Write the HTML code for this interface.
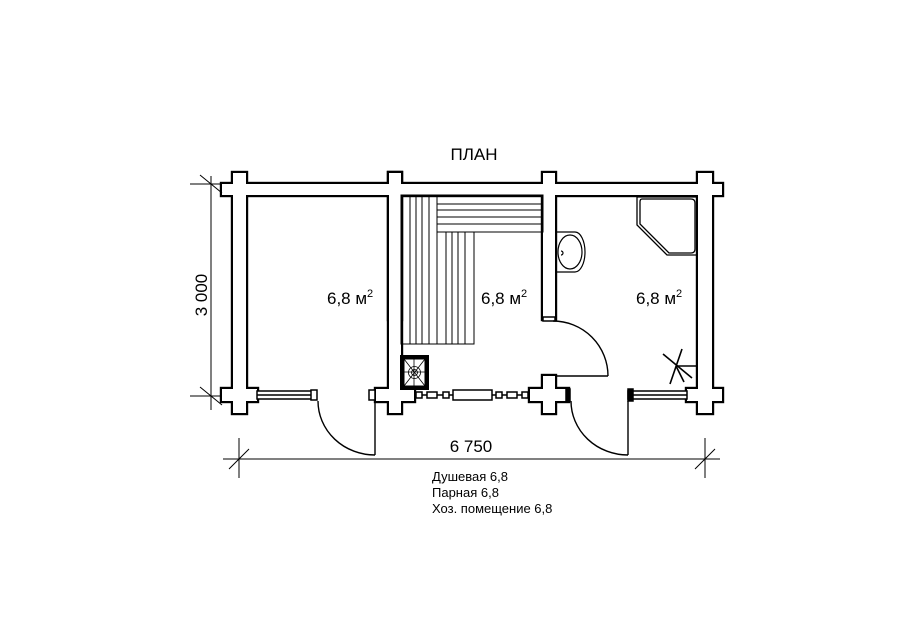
<!DOCTYPE html>
<html><head><meta charset="utf-8"><style>
html,body{margin:0;padding:0;background:#fff;}
svg{display:block;font-family:"Liberation Sans",Arial,sans-serif;}
</style></head><body>
<svg width="900" height="636" viewBox="0 0 900 636" xmlns="http://www.w3.org/2000/svg">
<rect width="900" height="636" fill="#fff"/>
<defs>
<g id="walls">
<rect x="222" y="184" width="500" height="11"/>
<rect x="233" y="173" width="13" height="240"/>
<rect x="389" y="173" width="12" height="146"/>
<rect x="389" y="173" width="12" height="240"/>
<rect x="543" y="173" width="12" height="146"/>
<rect x="698" y="173" width="14" height="240"/>
<rect x="222" y="389" width="35" height="12"/>
<rect x="376" y="389" width="38" height="12"/>
<rect x="687" y="389" width="35" height="12"/>
<rect x="543" y="376" width="12" height="37"/>
<rect x="530" y="389" width="38" height="12"/>
</g>
</defs>
<use href="#walls" fill="#000" stroke="#000" stroke-width="4.4"/>
<use href="#walls" fill="#fff" stroke="none"/>
<!-- windows -->
<g stroke="#000" stroke-width="1.5" fill="#fff">
<rect x="257" y="391" width="59" height="8"/>
<line x1="257" y1="395" x2="316" y2="395"/>
<rect x="311" y="390" width="6" height="10"/>
<rect x="369" y="390" width="6" height="10"/>
<rect x="628" y="391" width="59" height="8"/>
<line x1="628" y1="395" x2="687" y2="395"/>
<rect x="628" y="389" width="5" height="12" fill="#000"/>
<line x1="414" y1="395" x2="530" y2="395"/>
<rect x="416" y="392" width="6" height="6"/>
<rect x="427" y="392" width="10" height="6"/>
<rect x="443" y="392" width="6" height="6"/>
<rect x="453" y="390" width="39" height="10"/>
<rect x="496" y="392" width="6" height="6"/>
<rect x="507" y="392" width="10" height="6"/>
<rect x="522" y="392" width="6" height="6"/>
<rect x="566" y="389" width="4" height="12" fill="#000"/>
<rect x="543" y="317" width="12" height="4"/>
</g>
<!-- doors -->
<g stroke="#000" stroke-width="1.4" fill="none">
<path d="M375 401 V455 M318 401 A57 54 0 0 0 375 455"/>
<path d="M628 401 V455 M571 401 A57 54 0 0 0 628 455"/>
<path d="M555 376 H608 M553 321 A55 55 0 0 1 608 376"/>
</g>
<!-- benches -->
<g stroke="#000" stroke-width="1" fill="none">
<rect x="401" y="195" width="36" height="149"/>
<rect x="437" y="232" width="37" height="112"/>
<rect x="437" y="195" width="106" height="37"/>
<path d="M410 195V344 M416 195V344 M422 195V344 M429 195V344 M446 232V344 M452 232V344 M458 232V344 M465 232V344 M437 204H543 M437 210H543 M437 217H543 M437 224H543"/>
</g>
<!-- stove -->
<rect x="400" y="355" width="29" height="35" fill="#000"/>
<rect x="404" y="359" width="21" height="27" fill="#fff" stroke="#000" stroke-width="1"/>
<g stroke="#000" stroke-width="0.8" fill="none">
<path d="M404 359 L425 386 M425 359 L404 386 M414 359 V386 M404 372 H425"/>
<circle cx="414.5" cy="372.5" r="6"/>
<circle cx="414.5" cy="372.5" r="3"/>
</g>
<!-- sink -->
<g stroke="#000" stroke-width="1.2" fill="none">
<path d="M555 232 H575 A10 20 0 0 1 575 272 H555"/>
<ellipse cx="570" cy="252" rx="12" ry="17"/>
<path d="M561 251 a2 2 0 1 1 0 4"/>
</g>
<!-- shower tray -->
<g stroke="#000" stroke-width="1.3" fill="none">
<path d="M637 197 H697 V255 H667 L637 225 Z"/>
<path d="M642 199 H691 Q695 199 695 203 V249 Q695 253 691 253 H669 L640 224 V202 Q640 199 642 199 Z"/>
</g>
<!-- star -->
<g stroke="#000" stroke-width="1.6">
<line x1="663" y1="354" x2="692" y2="378"/>
<line x1="682" y1="349" x2="670" y2="384"/>
<line x1="676" y1="366" x2="696" y2="366"/>
<line x1="676" y1="366" x2="684" y2="382"/>
</g>
<!-- dimensions -->
<g stroke="#000" stroke-width="1">
<line x1="211" y1="176" x2="211" y2="410"/>
<line x1="190" y1="184" x2="220" y2="184"/>
<line x1="190" y1="396" x2="220" y2="396"/>
<line x1="200" y1="175" x2="222" y2="193"/>
<line x1="200" y1="387" x2="222" y2="405"/>
<line x1="223" y1="459" x2="720" y2="459"/>
<line x1="239" y1="438" x2="239" y2="478"/>
<line x1="705" y1="438" x2="705" y2="478"/>
<line x1="229" y1="469" x2="249" y2="449"/>
<line x1="695" y1="469" x2="715" y2="449"/>
</g>
<g fill="#000">
<text x="474" y="160" font-size="17" text-anchor="middle">ПЛАН</text>
<text x="207" y="295" font-size="17" text-anchor="middle" transform="rotate(-90 207 295)">3 000</text>
<text x="471" y="452" font-size="17" text-anchor="middle">6 750</text>
<text x="327" y="304" font-size="17">6,8 м<tspan font-size="11" dy="-7">2</tspan></text>
<text x="481" y="304" font-size="17">6,8 м<tspan font-size="11" dy="-7">2</tspan></text>
<text x="636" y="304" font-size="17">6,8 м<tspan font-size="11" dy="-7">2</tspan></text>
<text x="432" y="481" font-size="13">Душевая 6,8</text>
<text x="432" y="497" font-size="13">Парная 6,8</text>
<text x="432" y="513" font-size="13">Хоз. помещение 6,8</text>
</g>
</svg>
</body></html>
